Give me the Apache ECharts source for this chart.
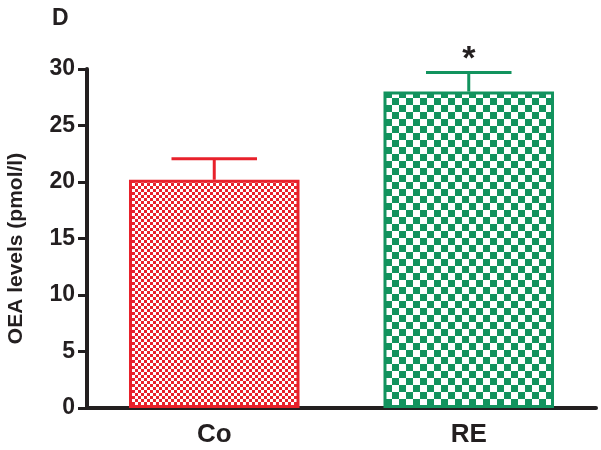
<!DOCTYPE html>
<html>
<head>
<meta charset="utf-8">
<script src="https://cdn.jsdelivr.net/npm/echarts@6/dist/echarts.min.js"></script>
<style>html,body{margin:0;padding:0;background:#fff}#c{width:601px;height:450px}</style>
</head>
<body>
<div id="c"></div>
<script>
var categories = ['Co', 'RE'];
var means = [20.2, 28.0];
var errors = [1.85, 1.7];
var sigLabels = ['', '*'];
var yTicks = [0, 5, 10, 15, 20, 25, 30];

var colors = ['#e8212b', '#12935e'];
var FONT = 'Liberation Sans, Arial, Helvetica, sans-serif';

function checker(color, sq) {
  var c = document.createElement('canvas');
  c.width = sq * 2; c.height = sq * 2;
  var g = c.getContext('2d');
  g.fillStyle = '#ffffff';
  g.fillRect(0, 0, sq * 2, sq * 2);
  g.fillStyle = color;
  g.fillRect(0, 0, sq, sq);
  g.fillRect(sq, sq, sq, sq);
  return c;
}
var patterns = [checker(colors[0], 3), checker(colors[1], 7)];

var chart = echarts.init(document.getElementById('c'), null, {renderer: 'canvas'});
chart.setOption({
  animation: false,
  backgroundColor: '#ffffff',
  title: {
    text: 'D', left: 47, top: 2,
    textStyle: {fontFamily: FONT, fontSize: 23, fontWeight: 'bold', color: '#231f20'}
  },
  grid: {left: 87, right: 5, top: 69, bottom: 42, outerBoundsMode: 'none', containLabel: false},
  xAxis: {
    type: 'category',
    data: categories,
    axisLine: {lineStyle: {color: '#231f20', width: 4}},
    axisTick: {alignWithLabel: true, length: 10, lineStyle: {color: '#231f20', width: 3}},
    axisLabel: {fontFamily: FONT, fontSize: 26, fontWeight: 'bold', color: '#231f20', margin: 14}
  },
  yAxis: {
    type: 'value',
    min: yTicks[0], max: yTicks[yTicks.length - 1], interval: 5,
    name: 'OEA levels (pmol/l)',
    nameLocation: 'middle',
    nameGap: 60,
    nameTextStyle: {fontFamily: FONT, fontSize: 21, fontWeight: 'bold', color: '#231f20', padding: [0, 20, 0, 0]},
    splitLine: {show: false},
    axisLine: {show: true, lineStyle: {color: '#231f20', width: 4}},
    axisTick: {show: true, length: 9, lineStyle: {color: '#231f20', width: 3}},
    axisLabel: {fontFamily: FONT, fontSize: 23, fontWeight: 'bold', color: '#231f20', margin: 12}
  },
  series: [
    {
      type: 'bar',
      barWidth: '67%',
      data: means.map(function (v, i) {
        return {
          value: v,
          itemStyle: {
            color: {image: patterns[i], repeat: 'repeat'},
            borderColor: colors[i],
            borderWidth: 3
          }
        };
      })
    },
    {
      type: 'custom',
      z: 5,
      data: means.map(function (v, i) { return [i, v, errors[i]]; }),
      encode: {x: 0, y: 1},
      renderItem: function (params, api) {
        var i = params.dataIndex;
        var base = api.coord([api.value(0), api.value(1)]);
        var top = api.coord([api.value(0), api.value(1) + api.value(2)]);
        var half = api.size([1, 0])[0] * 0.168;
        var col = colors[i];
        var children = [
          {type: 'line', shape: {x1: base[0], y1: base[1], x2: top[0], y2: top[1]},
           style: {stroke: col, lineWidth: 3}},
          {type: 'line', shape: {x1: top[0] - half, y1: top[1], x2: top[0] + half, y2: top[1]},
           style: {stroke: col, lineWidth: 3}}
        ];
        if (sigLabels[i]) {
          children.push({
            type: 'text',
            style: {
              text: sigLabels[i], x: top[0], y: top[1] + 4,
              align: 'center', verticalAlign: 'bottom',
              fontFamily: FONT, fontSize: 34, fontWeight: 'bold', fill: '#231f20'
            }
          });
        }
        return {type: 'group', children: children};
      }
    }
  ]
});
</script>
</body>
</html>
